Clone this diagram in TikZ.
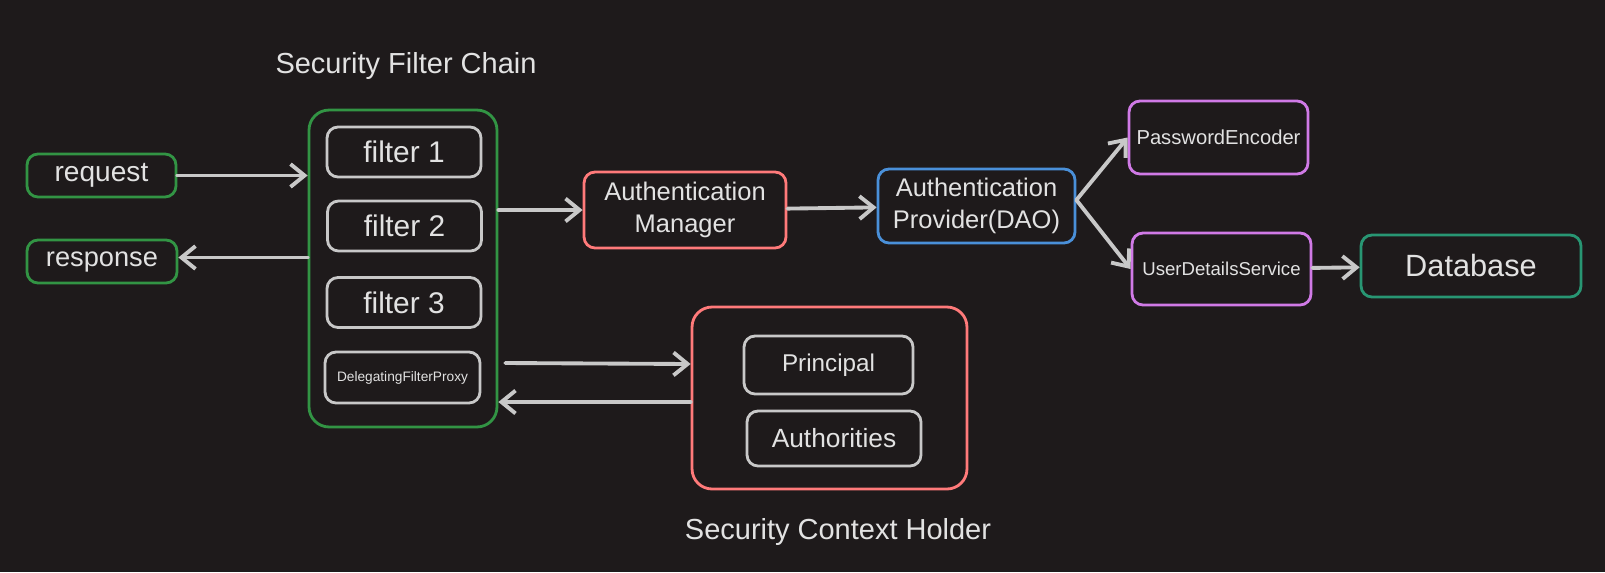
\documentclass[tikz,border=0pt]{standalone}
\usepackage{fontspec}
\setmainfont{Liberation Sans}
\usetikzlibrary{arrows.meta}
\definecolor{bgdark}{RGB}{30,26,27}
\definecolor{chaingreen}{RGB}{50,148,68}
\definecolor{authred}{RGB}{255,122,122}
\definecolor{provblue}{RGB}{74,144,217}
\definecolor{servpurple}{RGB}{208,122,230}
\definecolor{dbteal}{RGB}{40,150,115}
\definecolor{linegray}{RGB}{200,200,200}
\definecolor{txtgray}{RGB}{226,226,226}
\newcommand{\fsz}[1]{\fontsize{#1}{#1}\selectfont}
\begin{document}
\begin{tikzpicture}[x=0.02cm,y=-0.02cm,
    box/.style={draw,rounded corners=0.22cm,line width=1.6pt,text=txtgray,align=center,inner sep=0pt},
    title/.style={text=txtgray,font=\fsz{16.5pt}},
    arr/.style={-{Straight Barb[length=8pt,width=13pt]},line width=2.2pt,draw=linegray,line cap=round}]
    \fill[bgdark] (0,0) rectangle (1605,572);
    % Client side
    \node[box,draw=chaingreen,minimum width=2.98cm,minimum height=0.86cm,font=\fsz{16pt}] (req) at (101.5,175.5) {request};
    \node[box,draw=chaingreen,minimum width=3cm,minimum height=0.86cm,font=\fsz{15.5pt}] (resp) at (102,261.5) {response};
    % Security filter chain
    \node[title] (chaintitle) at (406,66) {Security Filter Chain};
    \node[box,draw=chaingreen,rounded corners=0.4cm,minimum width=3.76cm,minimum height=6.34cm] (chain) at (403,268.5) {};
    \node[box,draw=linegray,minimum width=3.08cm,minimum height=1cm,font=\fsz{17pt}] (f1) at (404,152) {filter 1};
    \node[box,draw=linegray,minimum width=3.08cm,minimum height=1cm,font=\fsz{17pt}] (f2) at (404.5,226) {filter 2};
    \node[box,draw=linegray,minimum width=3.08cm,minimum height=1cm,font=\fsz{17pt}] (f3) at (404,302.5) {filter 3};
    \node[box,draw=linegray,minimum width=3.1cm,minimum height=1.02cm,font=\fsz{7.8pt}] (dfp) at (402.5,377.5) {DelegatingFilterProxy};
    % Authentication
    \node[box,draw=authred,minimum width=4.04cm,minimum height=1.52cm,font=\fsz{14.5pt}] (am) at (685,210) {Authentication\\[4pt]Manager};
    \node[box,draw=provblue,minimum width=3.94cm,minimum height=1.48cm,font=\fsz{14.5pt}] (ap) at (976.5,206) {Authentication\\[4pt]Provider(DAO)};
    \node[box,draw=servpurple,minimum width=3.58cm,minimum height=1.46cm,font=\fsz{11.5pt}] (pe) at (1218.5,137.5) {PasswordEncoder};
    \node[box,draw=servpurple,minimum width=3.58cm,minimum height=1.44cm,font=\fsz{10.6pt}] (uds) at (1221.5,269) {UserDetailsService};
    \node[box,draw=dbteal,minimum width=4.4cm,minimum height=1.24cm,font=\fsz{17.5pt}] (db) at (1471,266) {Database};
    % Security context holder
    \node[box,draw=authred,rounded corners=0.4cm,minimum width=5.5cm,minimum height=3.64cm] (sc) at (829.5,398) {};
    \node[box,draw=linegray,minimum width=3.38cm,minimum height=1.16cm,font=\fsz{13.8pt}] (pr) at (828.5,365) {Principal};
    \node[box,draw=linegray,minimum width=3.48cm,minimum height=1.1cm,font=\fsz{15pt}] (au) at (834,438.5) {Authorities};
    \node[title] (sctitle) at (838,532) {Security Context Holder};
    % Connectors
    \draw[arr] (req.east) -- (req.east -| chain.west);
    \draw[arr] ([yshift=0.08cm]resp.east -| chain.west) -- ([yshift=0.08cm]resp.east);
    \draw[arr] (am.west -| chain.east) -- (am.west);
    \draw[arr] (am) -- (ap);
    \draw[arr] ([yshift=0.12cm]ap.east) -- (pe.west);
    \draw[arr] ([yshift=0.12cm]ap.east) -- (uds.west);
    \draw[arr] (uds) -- (db);
    \draw[arr] ([xshift=0.14cm,yshift=0.29cm]dfp.east -| chain.east) -- ([yshift=0.68cm]sc.west);
    \draw[arr] ([yshift=-0.08cm]sc.west) -- ([yshift=-0.08cm]sc.west -| chain.east);
\end{tikzpicture}
\end{document}
